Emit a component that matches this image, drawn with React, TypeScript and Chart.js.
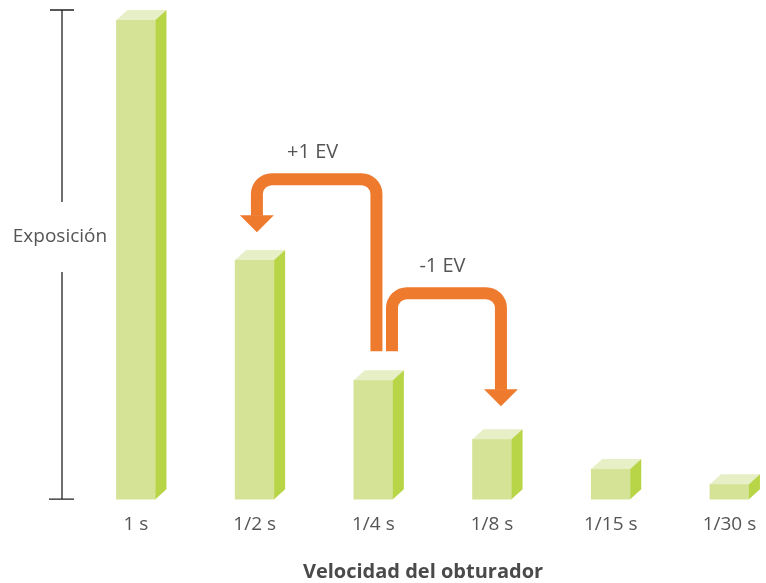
import { useEffect, useRef } from 'react'
import { Chart, registerables, type ChartConfiguration, type Plugin } from 'chart.js'

Chart.register(...registerables)

// shutter speeds and relative exposure (1 s = 1)
const shutterLabels = ['1 s', '1/2 s', '1/4 s', '1/8 s', '1/15 s', '1/30 s']
const exposure = [1.0, 0.499, 0.248, 0.125, 0.063, 0.031]

// EV arrows, in data units: from category x0 up to yTop, over to x1, down to yTip
const evLabels = ['+1 EV', '-1 EV']
const evFromX = [2.026, 2.157]
const evToX = [1.019, 3.075]
const evStartY = [0.309, 0.309]
const evTopY = [0.668, 0.430]
const evTipY = [0.557, 0.194]

const yAxisTitle = 'Exposición'
const xAxisTitle = 'Velocidad del obturador'

const FONT = '"Open Sans", "Noto Sans", sans-serif'
const FRONT = '#d4e396'
const TOP = '#e6efc6'
const SIDE = '#b8d447'
const ORANGE = '#ee7a2e'
const TEXT = '#555555'

const DEPTH_X = 11
const DEPTH_Y = 10

const bars3d: Plugin = {
  id: 'bars3d',
  afterDatasetsDraw(chart) {
    const ctx = chart.ctx
    const meta = chart.getDatasetMeta(0)
    ctx.save()
    meta.data.forEach((el: any) => {
      const { x, y, base, width } = el.getProps(['x', 'y', 'base', 'width'], true)
      const l = x - width / 2
      const r = x + width / 2
      ctx.fillStyle = TOP
      ctx.beginPath()
      ctx.moveTo(l, y)
      ctx.lineTo(l + DEPTH_X, y - DEPTH_Y)
      ctx.lineTo(r + DEPTH_X, y - DEPTH_Y)
      ctx.lineTo(r, y)
      ctx.closePath()
      ctx.fill()
      ctx.fillStyle = SIDE
      ctx.beginPath()
      ctx.moveTo(r, y)
      ctx.lineTo(r + DEPTH_X, y - DEPTH_Y)
      ctx.lineTo(r + DEPTH_X, base - DEPTH_Y)
      ctx.lineTo(r, base)
      ctx.closePath()
      ctx.fill()
    })
    ctx.restore()
  },
}

const decorations: Plugin = {
  id: 'decorations',
  afterDraw(chart) {
    const ctx = chart.ctx
    const { left, top, bottom } = chart.chartArea
    const xs = chart.scales.x
    const ys = chart.scales.y
    ctx.save()

    // exposure axis with caps and a gap for its label
    const labelY = top + (bottom - top) * 0.464
    ctx.strokeStyle = '#222'
    ctx.lineWidth = 1.3
    ctx.beginPath()
    ctx.moveTo(left - 12, top); ctx.lineTo(left + 12, top)
    ctx.moveTo(left, top); ctx.lineTo(left, labelY - 35)
    ctx.moveTo(left, labelY + 35); ctx.lineTo(left, bottom)
    ctx.moveTo(left - 13, bottom); ctx.lineTo(left + 12, bottom)
    ctx.stroke()
    ctx.fillStyle = TEXT
    ctx.font = `19px ${FONT}`
    ctx.textAlign = 'center'
    ctx.textBaseline = 'middle'
    ctx.fillText(yAxisTitle, left - 2, labelY)

    // shutter-speed title
    ctx.fillStyle = '#4a4a4a'
    ctx.font = `bold 20px ${FONT}`
    ctx.fillText(xAxisTitle, 423, 572)

    // EV arrows
    evLabels.forEach((label, i) => {
      const x0 = xs.getPixelForValue(evFromX[i])
      const x1 = xs.getPixelForValue(evToX[i])
      const y0 = ys.getPixelForValue(evStartY[i])
      const yt = ys.getPixelForValue(evTopY[i])
      const tip = ys.getPixelForValue(evTipY[i])
      const headBase = tip - 17
      ctx.strokeStyle = ORANGE
      ctx.fillStyle = ORANGE
      ctx.lineWidth = 12
      ctx.lineCap = 'butt'
      ctx.beginPath()
      ctx.moveTo(x0, y0)
      ctx.arcTo(x0, yt, x1, yt, 15)
      ctx.arcTo(x1, yt, x1, headBase, 15)
      ctx.lineTo(x1, headBase + 0.5)
      ctx.stroke()
      ctx.beginPath()
      ctx.moveTo(x1 - 17, headBase)
      ctx.lineTo(x1 + 17, headBase)
      ctx.lineTo(x1, tip)
      ctx.closePath()
      ctx.fill()
      ctx.fillStyle = TEXT
      ctx.font = `20px ${FONT}`
      ctx.fillText(label, (x0 + x1) / 2 - 4, yt - 27)
    })
    ctx.restore()
  },
}

export default function App() {
  const ref = useRef<HTMLCanvasElement>(null)

  useEffect(() => {
    if (!ref.current) return
    const chart = new Chart(ref.current, {
      type: 'bar',
      data: {
        datasets: [{
          data: exposure.map((v, i) => ({ x: i, y: v })),
          backgroundColor: FRONT,
          borderWidth: 0,
          barThickness: 39,
          clip: false,
        }],
      },
      options: {
        responsive: false,
        animation: false,
        layout: { padding: { left: 62, right: 0, top: 10, bottom: 33 } },
        plugins: { legend: { display: false }, tooltip: { enabled: false } },
        scales: {
          x: {
            type: 'linear',
            offset: false,
            min: -0.623,
            max: 5.308,
            grid: { display: false, drawTicks: false },
            border: { display: false },
            afterBuildTicks: (scale: any) => {
              scale.ticks = shutterLabels.map((_, i) => ({ value: i }))
            },
            afterFit: (scale: any) => {
              scale.paddingLeft = 0
              scale.paddingRight = 0
            },
            ticks: {
              autoSkip: false,
              maxRotation: 0,
              padding: 14,
              color: TEXT,
              font: { family: FONT, size: 19 },
              callback: (_v: any, i: number) => shutterLabels[i],
            },
          },
          y: { display: false, min: 0, max: 1.021 },
        },
      },
      plugins: [bars3d, decorations],
    } as ChartConfiguration)
    return () => { chart.destroy() }
  }, [])

  return (
    <div style={{ position: 'fixed', left: 0, top: 0, width: 766, height: 583, background: '#fff' }}>
      <canvas ref={ref} width={766} height={583} role="img" aria-label="Exposición según la velocidad del obturador" />
    </div>
  )
}
